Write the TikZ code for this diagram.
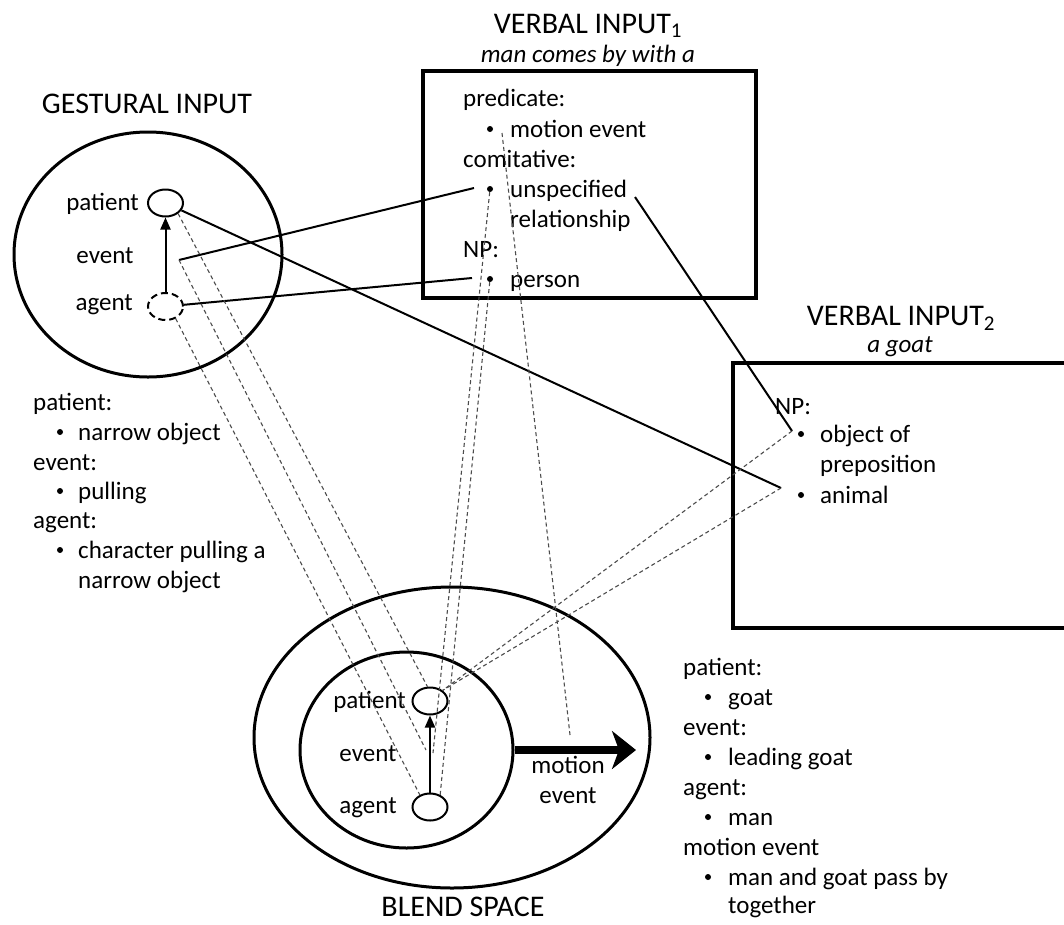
\documentclass[tikz,border=0pt]{standalone}
\usepackage{fontspec}
\setmainfont{Carlito}
\usetikzlibrary{arrows.meta,shapes.geometric}
\newcommand{\bodyfont}{\fontsize{25}{30}\selectfont}
\newcommand{\titlefont}{\fontsize{30}{36}\selectfont}

\begin{document}
\begin{tikzpicture}[x=1pt,y=-1pt,
  txt/.style={anchor=base west, inner sep=0, font=\bodyfont},
  lbl/.style={anchor=base east, inner sep=0, font=\bodyfont},
  ctxt/.style={anchor=base, inner sep=0, font=\bodyfont},
  ttl/.style={anchor=base, inner sep=0, font=\titlefont},
  subttl/.style={anchor=base, inner sep=0, font=\bodyfont\itshape},
  bul/.style={circle, fill=black, inner sep=0, minimum size=6pt},
  mentalspace/.style={draw, ellipse, line width=3pt, inner sep=0},
  slot/.style={draw, ellipse, line width=2pt, minimum width=35pt, minimum height=27pt, inner sep=0},
  link/.style={line width=2pt},
  mapping/.style={line width=1.1pt, draw=black!70, dash pattern=on 4pt off 3pt},
  frame/.style={line width=3.5pt},
  role/.style={line width=2pt, -{Triangle[length=12pt,width=10pt]}},
]
\useasboundingbox (0,0) rectangle (1064,924);

% ---------- gestural input ----------
\node[ttl] (gtitle) at (147,113) {GESTURAL INPUT};
\node[mentalspace, minimum width=268pt, minimum height=245pt] (gsp) at (148,254.5) {};
\node[slot] (gpat) at (165.5,203) {};
\node[slot, dash pattern=on 7pt off 4pt] (gag) at (165.5,306.5) {};
\coordinate (gev) at (179,260);
\node[lbl] (gpatl) at (139,210) {patient};
\node[ctxt] (gevl) at (105,263) {event};
\node[lbl] (gagl) at (133,310) {agent};
\draw[role] (gag) -- (gpat);

\node[txt] (g1) at (33,410) {patient:};
\node[bul] (g2b) at (60,432) {}; \node[txt] (g2) at (78,440) {narrow object};
\node[txt] (g3) at (33,470) {event:};
\node[bul] (g4b) at (60,491) {}; \node[txt] (g4) at (78,499) {pulling};
\node[txt] (g5) at (33,528) {agent:};
\node[bul] (g6b) at (60,550) {}; \node[txt] (g6) at (78,558) {character pulling a};
\node[txt] (g7) at (78,588) {narrow object};

% ---------- verbal input 1 ----------
\node[ttl] (v1title) at (588,33) {VERBAL INPUT\textsubscript{1}};
\node[subttl] (v1sub) at (588,62) {man comes by with a};
\draw[frame] (423,71) rectangle (756,298);
\node[txt] (a1) at (463,106) {predicate:};
\node[bul] (a2b) at (490,129) {}; \node[txt] (a2) at (510,137) {motion event};
\node[txt] (a3) at (463,167) {comitative:};
\node[bul] (a4b) at (490,189) {}; \node[txt] (a4) at (510,197) {unspecified};
\node[txt] (a5) at (510,227) {relationship};
\node[txt] (a6) at (463,257) {NP:};
\node[bul] (a7b) at (490,279) {}; \node[txt] (a7) at (510,287) {person};
\coordinate (mev) at (502,133);
\coordinate (unsp) at (474,188);
\coordinate (pers) at (472,278);
\coordinate (unspr) at (635,197);

% ---------- verbal input 2 ----------
\node[ttl] (v2title) at (901,325) {VERBAL INPUT\textsubscript{2}};
\node[subttl] (v2sub) at (900,352) {a goat};
\draw[frame] (1064,363) -- (733,363) -- (733,628) -- (1064,628);
\node[txt] (b1) at (775,414) {NP:};
\node[bul] (b2b) at (801,434) {}; \node[txt] (b2) at (820,442) {object of};
\node[txt] (b3) at (820,472) {preposition};
\node[bul] (b4b) at (801,495) {}; \node[txt] (b4) at (820,503) {animal};
\coordinate (objp) at (792,431);
\coordinate (anim) at (781,488);

% ---------- blend space ----------
\node[mentalspace, minimum width=396pt, minimum height=301pt] (bout) at (452,737.5) {};
\node[mentalspace, minimum width=213pt, minimum height=196pt] (bin) at (406.5,750) {};
\node[slot] (bpat) at (430,701) {};
\node[slot] (bag) at (430,807) {};
\coordinate (bev1) at (426,750);
\coordinate (bev2) at (433,753);
\coordinate (bmot) at (570,735);
\coordinate (mtip) at (636,750);
\node[lbl] (bpatl) at (406,708) {patient};
\node[ctxt] (bevl) at (368,761) {event};
\node[ctxt] (bagl) at (368,813) {agent};
\draw[role] (bag) -- (bpat);
\draw[line width=8pt, -{Stealth[length=24pt,width=38pt,inset=7pt]}] (bin.east) -- (mtip);
\node[ctxt] (mot1) at (568,773) {motion};
\node[ctxt] (mot2) at (568,803) {event};
\node[ttl] (btitle) at (463,916) {BLEND SPACE};

\node[txt] (c1) at (683,675) {patient:};
\node[bul] (c2b) at (708,697) {}; \node[txt] (c2) at (728,705) {goat};
\node[txt] (c3) at (683,735) {event:};
\node[bul] (c4b) at (708,757) {}; \node[txt] (c4) at (728,765) {leading goat};
\node[txt] (c5) at (683,795) {agent:};
\node[bul] (c6b) at (708,817) {}; \node[txt] (c6) at (728,825) {man};
\node[txt] (c7) at (683,855) {motion event};
\node[bul] (c8b) at (708,877) {}; \node[txt] (c8) at (728,885) {man and goat pass by};
\node[txt] (c9) at (728,913) {together};

% ---------- cross-space links ----------
\draw[link] (gev) -- (unsp);
\draw[link] (gag) -- (pers);
\draw[link] (gpat) -- (anim);
\draw[link] (unspr) -- (objp);

% ---------- projections into the blend ----------
\draw[mapping] (gpat.-40) -- (bpat.100);
\draw[mapping] (gev) -- (bev1);
\draw[mapping] (gag.-50) -- (bag.130);
\draw[mapping] (mev) -- (bmot);
\draw[mapping] (a4b) -- (bev2);
\draw[mapping] (a7b) -- (bag.50);
\draw[mapping] (objp) -- (bpat.40);
\draw[mapping] (anim) -- (bpat.40);
\end{tikzpicture}
\end{document}
